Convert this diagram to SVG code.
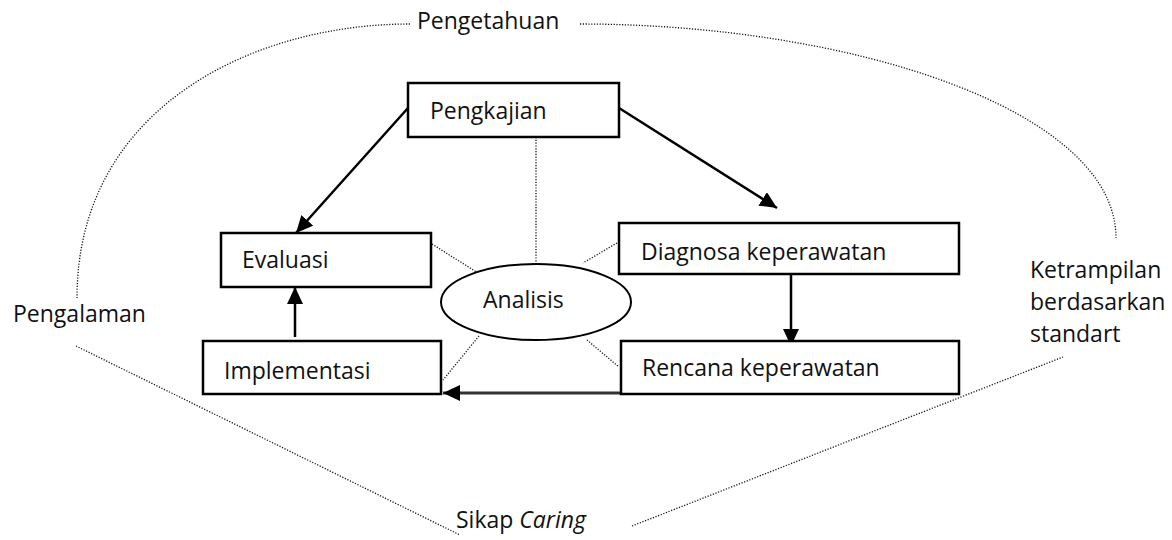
<svg xmlns="http://www.w3.org/2000/svg" width="1172" height="540" viewBox="0 0 1172 540">
<style>
text{font-family:"Open Sans","Noto Sans","Liberation Sans",sans-serif;font-size:23px;fill:#111}
.box{fill:#fff;stroke:#000;stroke-width:2.5}
.dot{fill:none;stroke:#111;stroke-width:1.3;stroke-dasharray:1.2 1.6}
.arr{fill:none;stroke:#000;stroke-width:2.5}
</style>
<defs>
<marker id="ah" markerUnits="userSpaceOnUse" markerWidth="18" markerHeight="16" refX="17" refY="8" orient="auto">
<path d="M0 0 L17 8 L0 16 Z" fill="#000"/>
</marker>
</defs>
<rect width="1172" height="540" fill="#fff"/>
<g id="outer">
<path class="dot" d="M410 24 C250 24 77 110 77 298"/>
<path class="dot" d="M580 24 C850 24 1116 110 1116 238"/>
<path class="dot" d="M76 346 L460 535"/>
<path class="dot" d="M632 526 L1063 357"/>
<text x="417" y="29">Pengetahuan</text>
<text x="13" y="322">Pengalaman</text>
<text x="1030" y="278">Ketrampilan</text>
<text x="1030" y="310">berdasarkan</text>
<text x="1030" y="342">standart</text>
<text x="456" y="528">Sikap <tspan font-style="italic">Caring</tspan></text>
</g>
<g id="connectors">
<path class="dot" d="M432 244 L478 273"/>
<path class="dot" d="M536 137 L536 264"/>
<path class="dot" d="M617 243 L583 263"/>
<path class="dot" d="M479 336 L443 380"/>
<path class="dot" d="M587 340 L619 367"/>
<path class="arr" d="M408 108 L296 233" marker-end="url(#ah)"/>
<path class="arr" d="M619 108 L777 208" marker-end="url(#ah)"/>
<path class="arr" d="M791 274 L791 346" marker-end="url(#ah)"/>
<path class="arr" d="M295 337 L295 287" marker-end="url(#ah)"/>
<path d="M621 393 L443 393" fill="none" stroke="#333" stroke-width="3" marker-end="url(#ah)"/>
</g>
<g id="pengkajian"><rect class="box" x="408" y="83" width="211" height="54"/><text x="430" y="119">Pengkajian</text></g>
<g id="evaluasi"><rect class="box" x="221" y="233" width="210" height="54"/><text x="242" y="268">Evaluasi</text></g>
<g id="implementasi"><rect class="box" x="203" y="341" width="238" height="53"/><text x="224" y="379">Implementasi</text></g>
<g id="diagnosa"><rect class="box" x="619" y="223" width="340" height="51"/><text x="641" y="260">Diagnosa keperawatan</text></g>
<g id="rencana"><rect class="box" x="621" y="341" width="338" height="53"/><text x="642" y="376">Rencana keperawatan</text></g>
<g id="analisis"><ellipse cx="536" cy="302" rx="95" ry="38" fill="#fff" stroke="#000" stroke-width="2"/><text x="483" y="308">Analisis</text></g>
</svg>
